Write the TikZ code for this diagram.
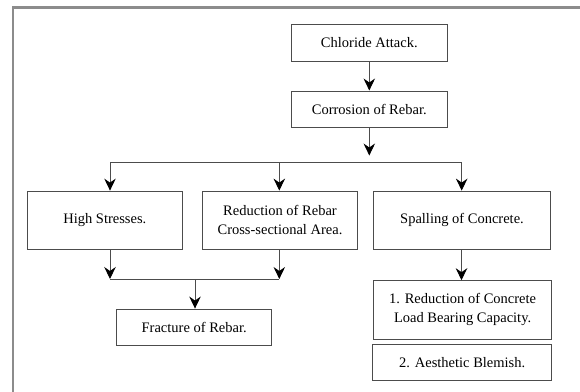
\documentclass[tikz,border=0pt]{standalone}
\usepackage{fontspec}
\setmainfont{Liberation Serif}
\usetikzlibrary{arrows.meta}
\begin{document}
\begin{tikzpicture}[x=1pt,y=-1pt,
  box/.style={draw=black!70, line width=0.9pt, rectangle, align=center, inner sep=0pt,
    font=\fontsize{14.5}{19}\selectfont, text=black},
  conn/.style={draw=black!70, line width=0.9pt},
  arr/.style={conn, -{Stealth[length=12pt, width=11.5pt, inset=4pt, black]}},
  frame/.style={draw=black!45, line width=2.2pt}]
\useasboundingbox (0,0) rectangle (580,391);
% frame (right and bottom sides lie outside the picture)
\coordinate (ftl) at (12.7,7.5);
\coordinate (ftr) at (585,7.5);
\coordinate (fbl) at (12.7,396);
\draw[frame] (fbl) -- (ftl) -- (ftr);
% nodes
\node[box, minimum width=156.7pt, minimum height=37pt] (chl) at (369.3,42.5) {Chloride Attack.};
\node[box, minimum width=156.7pt, minimum height=36.7pt] (cor) at (369.3,109.3) {Corrosion of Rebar.};
\node[box, minimum width=155pt, minimum height=58.5pt] (hs) at (104.8,220.3) {High Stresses.};
\node[box, minimum width=155.4pt, minimum height=58.5pt] (red) at (280,220.3) {Reduction of Rebar\\Cross-sectional Area.};
\node[box, minimum width=177.4pt, minimum height=58.5pt] (spa) at (462,220.3) {Spalling of Concrete.};
\node[box, minimum width=155pt, minimum height=36pt] (fra) at (194.2,327) {Fracture of Rebar.};
\node[box, minimum width=178pt, minimum height=58.3pt] (lbc) at (462.6,309.8) {1. Reduction of Concrete\\Load Bearing Capacity.};
\node[box, minimum width=179pt, minimum height=36.7pt] (aes) at (462.2,362.3) {2. Aesthetic Blemish.};
% connectors
\draw[arr] (chl.south) -- (cor.north);
\coordinate (corend) at (369.3,155.5);
\draw[arr] (cor.south) -- (corend);
\coordinate (bl) at (110,162.7);
\coordinate (bm) at (279.3,162.7);
\coordinate (br) at (461.7,162.7);
\draw[conn] (bl) -- (br);
\draw[arr] (bl) -- (bl |- hs.north);
\draw[arr] (bm) -- (bm |- red.north);
\draw[arr] (br) -- (br |- spa.north);
% merge below
\coordinate (ml) at (110,279);
\coordinate (mr) at (279.3,279);
\coordinate (mm) at (195,279);
\draw[arr] (ml |- hs.south) -- (ml);
\draw[arr] (mr |- red.south) -- (mr);
\draw[conn] (ml) -- (mr);
\draw[arr] (mm) -- (mm |- fra.north);
% spalling
\coordinate (sx) at (461.5,250);
\draw[arr] (sx |- spa.south) -- (sx |- lbc.north);
\end{tikzpicture}
\end{document}
